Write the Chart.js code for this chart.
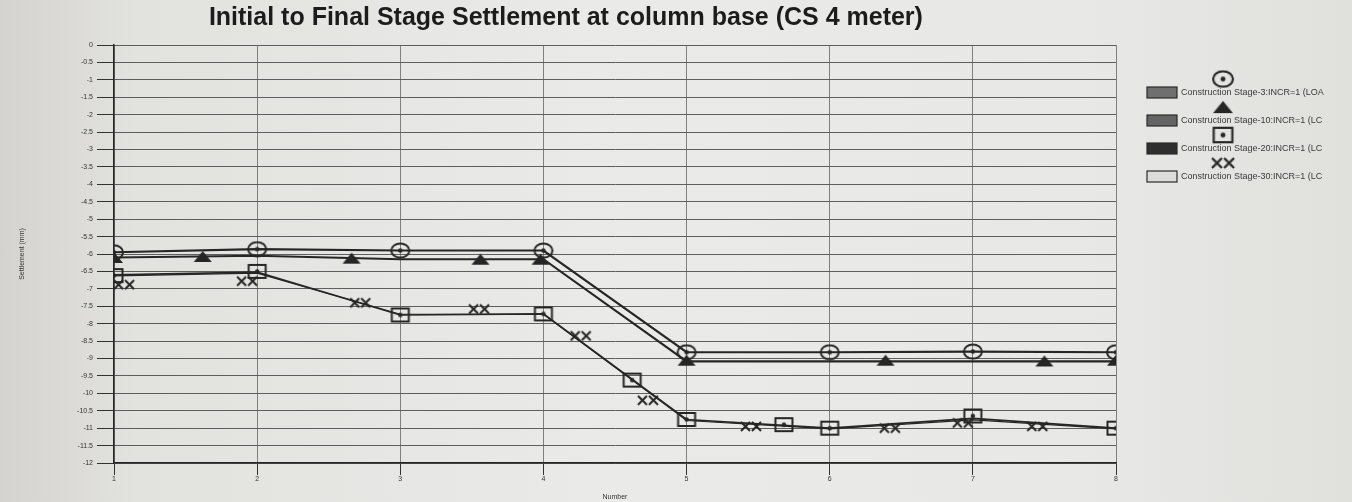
<!DOCTYPE html>
<html>
<head>
<meta charset="utf-8">
<title>Initial to Final Stage Settlement at column base (CS 4 meter)</title>
<script src="https://cdn.jsdelivr.net/npm/chart.js@4.4.1/dist/chart.umd.min.js"></script>
<style>
  html, body { margin: 0; padding: 0; }
  body {
    width: 1352px;
    height: 502px;
    overflow: hidden;
    background: linear-gradient(90deg, #d4d3cf 0%, #e2e2df 10%, #eaeae8 45%, #e8e8e6 80%, #e0e0dd 100%);
  }
  #chartBox { position: relative; width: 1352px; height: 502px; }
</style>
</head>
<body>
<div id="chartBox"><canvas id="settlementChart"></canvas></div>
<script>
const chartTitle = "Initial to Final Stage Settlement at column base (CS 4 meter)";
const stageLabels = [
  "Construction Stage-3:INCR=1 (LOA",
  "Construction Stage-10:INCR=1 (LC",
  "Construction Stage-20:INCR=1 (LC",
  "Construction Stage-30:INCR=1 (LC",
];

// node numbers on the x axis
const numbers = [1, 2, 3, 4, 5, 6, 7, 8];

// settlement (mm) at each number
const stage3 = [-5.95, -5.86, -5.9, -5.9, -8.82, -8.82, -8.8, -8.82];
const stage10 = [-6.1, -6.05, -6.15, -6.15, -9.08, -9.08, -9.08, -9.08];
const stage20 = [-6.6, -6.52, -7.75, -7.72, -10.75, -11.0, -10.72, -11.0];
const stage30 = [-6.63, -6.55, -7.73, -7.73, -10.78, -11.02, -10.76, -11.02];

// symbol positions along the curves (as printed)
const stage10MarkX = [1, 1.62, 2.66, 3.56, 3.98, 5, 6.39, 7.5, 8];
const stage10MarkY = [-6.1, -6.07, -6.12, -6.15, -6.15, -9.05, -9.05, -9.07, -9.05];
const stage20MarkX = [1, 2, 3, 4, 4.62, 5, 5.68, 6, 7, 8];
const stage20MarkY = [-6.62, -6.5, -7.75, -7.72, -9.62, -10.75, -10.9, -11.0, -10.65, -11.0];
const stage30MarkX = [1.07, 1.93, 2.72, 3.55, 4.26, 4.73, 5.45, 6.42, 6.93, 7.45];
const stage30MarkY = [-6.88, -6.78, -7.4, -7.58, -8.35, -10.2, -10.95, -11.0, -10.85, -10.95];

const ink = "#262626";
const fontFamily = "'Liberation Sans', Arial, sans-serif";

function makeMarker(kind) {
  const c = document.createElement("canvas");
  c.width = kind === "xx" ? 24 : 22;
  c.height = 17;
  const g = c.getContext("2d");
  g.strokeStyle = ink;
  g.fillStyle = ink;
  g.lineWidth = 2;
  if (kind === "circle") {
    g.beginPath();
    g.ellipse(11, 8.5, 9, 7, 0, 0, Math.PI * 2);
    g.stroke();
    g.beginPath();
    g.arc(11, 8.5, 2.2, 0, Math.PI * 2);
    g.fill();
  } else if (kind === "triangle") {
    g.beginPath();
    g.moveTo(2, 14);
    g.lineTo(20, 14);
    g.lineTo(11, 3);
    g.closePath();
    g.fill();
  } else if (kind === "square") {
    g.strokeRect(2.5, 2, 17, 13);
    g.beginPath();
    g.arc(11, 8.5, 2.2, 0, Math.PI * 2);
    g.fill();
  } else {
    g.beginPath();
    g.moveTo(2, 4); g.lineTo(11, 13);
    g.moveTo(11, 4); g.lineTo(2, 13);
    g.moveTo(13, 4); g.lineTo(22, 13);
    g.moveTo(22, 4); g.lineTo(13, 13);
    g.stroke();
  }
  return c;
}

const markers = [
  makeMarker("circle"),
  makeMarker("triangle"),
  makeMarker("square"),
  makeMarker("xx"),
];
const legendFills = ["#6f6f6f", "#646464", "#2e2e2e", "#dcdcda"];

function toPoints(xs, ys) {
  return xs.map((x, i) => ({ x: x, y: ys[i] }));
}

function curve(label, values, width, marker) {
  return {
    label: label,
    data: toPoints(numbers, values),
    showLine: true,
    borderColor: ink,
    borderWidth: width,
    pointStyle: marker || "circle",
    pointRadius: marker ? 8 : 0,
  };
}

function marks(label, xs, ys, marker) {
  return {
    label: label + " (marks)",
    data: toPoints(xs, ys),
    showLine: false,
    pointStyle: marker,
    pointRadius: 8,
  };
}

const titlePlugin = {
  id: "pageTitle",
  afterDraw(chart) {
    const { ctx, chartArea } = chart;
    ctx.save();
    ctx.font = "bold 25px " + fontFamily;
    ctx.fillStyle = "#1c1c1c";
    ctx.textAlign = "center";
    ctx.textBaseline = "middle";
    ctx.fillText(chartTitle, chartArea.left + chartArea.width * 0.451, 18);
    ctx.restore();
  },
};

const stageLegend = {
  id: "stageLegend",
  afterDraw(chart) {
    const ctx = chart.ctx;
    const left = chart.chartArea.right + 31;
    ctx.save();
    ctx.font = "9px " + fontFamily;
    ctx.textBaseline = "middle";
    stageLabels.forEach((label, i) => {
      const top = 87 + i * 28;
      ctx.fillStyle = legendFills[i];
      ctx.fillRect(left, top, 30, 11);
      ctx.strokeStyle = "#2a2a2a";
      ctx.lineWidth = 1.2;
      ctx.strokeRect(left, top, 30, 11);
      const img = markers[i];
      ctx.drawImage(img, left + 76 - img.width * 0.55, top - 8 - img.height * 0.55, img.width * 1.1, img.height * 1.1);
      ctx.fillStyle = "#3a3a3a";
      ctx.fillText(label, left + 34, top + 6);
    });
    ctx.restore();
  },
};

const tickFont = { family: fontFamily, size: 7 };

new Chart(document.getElementById("settlementChart"), {
  type: "scatter",
  data: {
    datasets: [
      curve(stageLabels[0], stage3, 2.2, markers[0]),
      marks(stageLabels[1], stage10MarkX, stage10MarkY, markers[1]),
      marks(stageLabels[2], stage20MarkX, stage20MarkY, markers[2]),
      marks(stageLabels[3], stage30MarkX, stage30MarkY, markers[3]),
      curve(stageLabels[1], stage10, 2.2),
      curve(stageLabels[2], stage20, 1.6),
      curve(stageLabels[3], stage30, 1.2),
    ],
  },
  options: {
    responsive: true,
    maintainAspectRatio: false,
    animation: false,
    layout: { padding: { top: 45, right: 236, left: 0, bottom: 0 } },
    plugins: {
      legend: { display: false },
      tooltip: { enabled: false },
      title: { display: false },
    },
    scales: {
      x: {
        type: "linear",
        min: 1,
        max: 8,
        ticks: { stepSize: 1, font: tickFont, color: "#333", padding: 0 },
        grid: { color: "#808080", lineWidth: 1, tickLength: 12, tickColor: "#333" },
        border: { color: ink, width: 1.5 },
        title: {
          display: true,
          text: "Number",
          font: tickFont,
          color: "#333",
          padding: { top: 0, bottom: 1 },
        },
        afterFit(scale) {
          scale.height = 39;
        },
      },
      y: {
        min: -12,
        max: 0,
        ticks: {
          stepSize: 0.5,
          autoSkip: false,
          font: tickFont,
          color: "#333",
          padding: 4,
          callback: (value) => String(value),
        },
        grid: { color: "#5e5e5e", lineWidth: 1, tickLength: 17, tickColor: "#333" },
        border: { color: ink, width: 1.5 },
        title: {
          display: true,
          text: "Settlement (mm)",
          font: tickFont,
          color: "#333",
          padding: { top: 18, bottom: 0 },
        },
        afterFit(scale) {
          scale.width = 114;
        },
      },
    },
  },
  plugins: [titlePlugin, stageLegend],
});
</script>
</body>
</html>
